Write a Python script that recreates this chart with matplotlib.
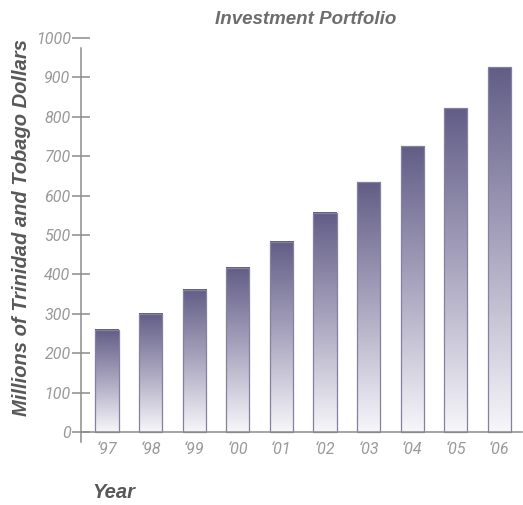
import numpy as np
import matplotlib
matplotlib.use('Agg')
import matplotlib.pyplot as plt
from matplotlib.colors import LinearSegmentedColormap

years = ['\u201897', '\u201898', '\u201899', '\u201800', '\u201801',
         '\u201802', '\u201803', '\u201804', '\u201805', '\u201806']
values = [260, 300, 361, 417, 483, 557, 634, 725, 822, 926]
yticks = list(range(0, 1001, 100))

label_font = ['Liberation Sans', 'DejaVu Sans']
tick_font = ['Roboto', 'DejaVu Sans']
grey = '#8c8c8c'

fig = plt.figure(figsize=(5.23, 5.05), dpi=100)
ax = fig.add_axes([81 / 523, 63 / 505, 441 / 523, 404 / 505])

cmap = LinearSegmentedColormap.from_list('bar', ['#f7f6fa', '#aba7c0', '#625d86'])
grad = np.linspace(0, 1, 256).reshape(-1, 1)
width = 0.53
x = np.arange(len(years))
for xi, v in zip(x, values):
    ax.imshow(grad, extent=[xi - width / 2, xi + width / 2, 0, v], origin='lower',
              aspect='auto', cmap=cmap, zorder=2)
ax.bar(x, values, width=width, facecolor='none', edgecolor='#85809f', linewidth=0.9, zorder=3)

ax.set_xlim(-0.596, 9.52)
ax.set_ylim(-25, 1000)

for s in ['top', 'right']:
    ax.spines[s].set_visible(False)
ax.spines['bottom'].set_position(('data', 0))
ax.spines['left'].set_bounds(-25, 975)
for s in ['left', 'bottom']:
    ax.spines[s].set_color(grey)
    ax.spines[s].set_linewidth(1.1)
ax.spines['bottom'].set_zorder(4)

ax.set_yticks(yticks)
ax.set_yticklabels([str(t) for t in yticks], family=tick_font, weight='normal',
                   style='italic', color='#999999', fontsize=11.5)
ax.tick_params(axis='y', direction='inout', length=13, width=1.1, color=grey, pad=1)
ax.set_xticks(x)
ax.set_xticklabels(years, family=tick_font, weight='normal', style='italic',
                   color='#999999', fontsize=11.5)
ax.tick_params(axis='x', length=0, pad=7)

fig.text(306 / 523, 1 - 19 / 505, 'Investment Portfolio', family=label_font, style='italic',
         weight='bold', color='#6d6d6d', fontsize=13.5, ha='center', va='center')
fig.text(22 / 523, 1 - 227 / 505, 'Millions of Trinidad and Tobago Dollars', family=label_font,
         style='italic', weight='bold', color='#585858', fontsize=14.5, rotation=90,
         ha='center', va='center')
fig.text(92 / 523, 1 - 492 / 505, 'Year', family=label_font, style='italic', weight='bold',
         color='#585858', fontsize=14.5, ha='left', va='center')

fig.savefig('out.png', dpi=100)
